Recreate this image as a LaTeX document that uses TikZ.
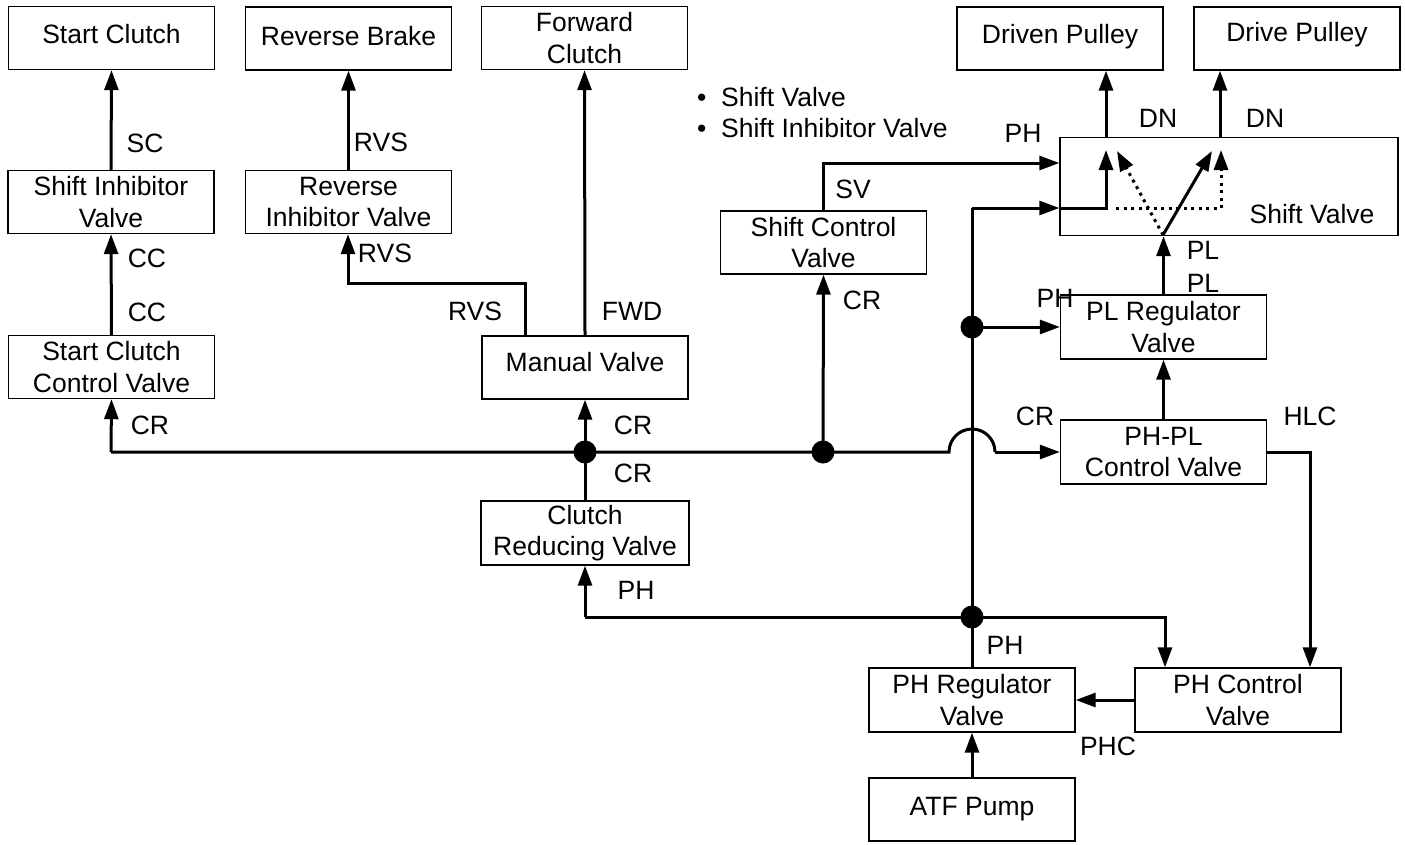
\documentclass[tikz,border=0pt]{standalone}
\usepackage{fontspec}
\setmainfont{Liberation Sans}
\usetikzlibrary{arrows.meta}
\begin{document}
\begin{tikzpicture}[x=1pt,y=-1pt,
  every node/.style={font=\fontsize{26.5}{31.5}\selectfont, inner sep=0pt},
  box/.style={draw, line width=1.4pt, minimum width=206pt, minimum height=63pt, align=center},
  flow/.style={line width=3pt, -{Triangle[length=20pt,width=14pt]}},
  pipe/.style={line width=3pt},
  dotflow/.style={line width=3pt, dash pattern=on 3pt off 4.5pt, -{Triangle[length=20pt,width=14pt]}},
  lbl/.style={}]
\useasboundingbox (0,0) rectangle (1405,844);
% boxes
\node[box] (sc) at (111.5,38) {\raisebox{4pt}[\height][\depth]{Start Clutch}};
\node[box] (rb) at (348.5,38.5) {\raisebox{2pt}[\height][\depth]{Reverse Brake}};
\node[box] (fc) at (584.5,38) {Forward\\Clutch};
\node[box] (dnp) at (1060,38.5) {\raisebox{2pt}[\height][\depth]{Driven Pulley}};
\node[box] (drp) at (1297,38.5) {\raisebox{4pt}[\height][\depth]{Drive Pulley}};
\node[box] (siv) at (111,202) {Shift Inhibitor\\Valve};
\node[box] (riv) at (348.5,202) {Reverse\\Inhibitor Valve};
\node[box] (sccv) at (111.5,367) {Start Clutch\\Control Valve};
\node[box] (mv) at (585,367.5) {\raisebox{5pt}[\height][\depth]{Manual Valve}};
\node[box, minimum width=208pt, minimum height=64pt] (crv) at (585,533) {Clutch\\Reducing Valve};
\node[box] (scv) at (823.5,242.5) {Shift Control\\Valve};
\node[box, minimum width=338pt, minimum height=98pt] (sv) at (1229,186.5) {};
\node (svt) at (1312,214) {Shift Valve};
\node[box, minimum height=64pt] (plr) at (1163.5,327) {PL Regulator\\Valve};
\node[box, minimum height=64pt] (phpl) at (1163.5,452) {PH-PL\\Control Valve};
\node[box, minimum height=64pt] (phr) at (972,700) {PH Regulator\\Valve};
\node[box, minimum height=64pt] (phc) at (1238,700) {PH Control\\Valve};
\node[box] (atf) at (972,809.5) {ATF Pump};
% annotations
\node[anchor=west] (b1) at (697,97) {\textbullet\ \ Shift Valve};
\node[anchor=west] (b2) at (697,128) {\textbullet\ \ Shift Inhibitor Valve};
% junction coordinates
\coordinate (jL) at (111,452);
\coordinate (jM) at (585,452);
\coordinate (jS) at (823,452);
\coordinate (jPH) at (972,617);
\coordinate (jPL) at (972,327);
\coordinate (jTop) at (972,208);
\coordinate (hopL) at (949,452);
\coordinate (crvB) at (585,617);
\coordinate (phcT) at (1165,617);
\coordinate (mvR) at (525,283);
\coordinate (rvsC) at (348,283);
\coordinate (svC) at (823,163);
\coordinate (hlc) at (1310,452);
\coordinate (svIn) at (1106,208);
\coordinate (svUp) at (1106,150);
\coordinate (svb) at (1163,235);
\coordinate (dn1) at (1106,137);
\coordinate (dn2) at (1220,137);
% left column
\draw[flow] (siv.north) -- (sc.south);
\draw[flow] (sccv.north) -- (siv.south);
\draw[flow] (jL) -- (sccv.south);
% reverse
\draw[flow] (riv.north) -- (rb.south);
\draw[flow] (mv.north -| mvR) -- (mvR) -- (rvsC) -- (riv.south -| rvsC);
% forward
\draw[flow] (mv.north) -- (fc.south);
% CR line
\draw[pipe] (jL) -- (hopL) arc[start angle=180, end angle=0, radius=23pt];
\draw[flow] (995,452) -- (phpl.west);
\draw[flow] (jM) -- (mv.south);
\draw[pipe] (jM) -- (crv.north);
\draw[flow] (jS) -- (scv.south);
\draw[flow] (scv.north -| svC) -- (svC) -- (sv.west |- svC);
% PH network
\draw[flow] (crvB) -- (crv.south);
\draw[pipe] (crvB) -- (jPH);
\draw[flow] (jPH) -- (phcT) -- (phc.north -| phcT);
\draw[pipe] (phr.north) -- (jTop);
\draw[flow] (jTop) -- (sv.west |- jTop);
\draw[flow] (sv.west |- jTop) -- (svIn) -- (svUp);
\draw[flow] (jPL) -- (plr.west |- jPL);
% right column
\draw[flow] (plr.north) -- (sv.south -| plr.north);
\draw[flow] (phpl.north) -- (plr.south);
\draw[flow] (phpl.east) -- (hlc) -- (phc.north -| hlc);
\draw[flow] (phc.west) -- (phr.east);
\draw[flow] (atf.north) -- (phr.south);
% outputs
\draw[flow] (dn1) -- (dn1 |- dnp.south);
\draw[flow] (dn2) -- (dn2 |- drp.south);
% shift valve internals
\draw[flow] (svb) -- (1212,151);
\draw[dotflow] (svb) -- (1117,151);
\draw[dotflow] (1116,208) -- (1221,208) -- (1221,150);
% dots
\foreach \p in {jM,jS,jPH,jPL} \fill (\p) circle[radius=11.5pt];
% labels
\node[lbl] (l1) at (145,143) {SC};
\node[lbl] (l2) at (147,258) {CC};
\node[lbl] (l3) at (147,312) {CC};
\node[lbl] (l4) at (150,425) {CR};
\node[lbl] (l5) at (381,142) {RVS};
\node[lbl] (l6) at (385,253) {RVS};
\node[lbl] (l7) at (475,311) {RVS};
\node[lbl] (l8) at (632,311) {FWD};
\node[lbl] (l9) at (633,425) {CR};
\node[lbl] (l10) at (633,473) {CR};
\node[lbl] (l11) at (636,590) {PH};
\node[lbl] (l12) at (862,300) {CR};
\node[lbl] (l13) at (853,189) {SV};
\node[lbl] (l14) at (1023,133) {PH};
\node[lbl] (l15) at (1055,298) {PH};
\node[lbl] (l16) at (1035,416) {CR};
\node[lbl] (l17) at (1310,416) {HLC};
\node[lbl] (l18) at (1203,250) {PL};
\node[lbl] (l19) at (1203,283) {PL};
\node[lbl] (l20) at (1158,118) {DN};
\node[lbl] (l21) at (1265,118) {DN};
\node[lbl] (l22) at (1005,645) {PH};
\node[lbl] (l23) at (1108,746) {PHC};
\end{tikzpicture}
\end{document}
